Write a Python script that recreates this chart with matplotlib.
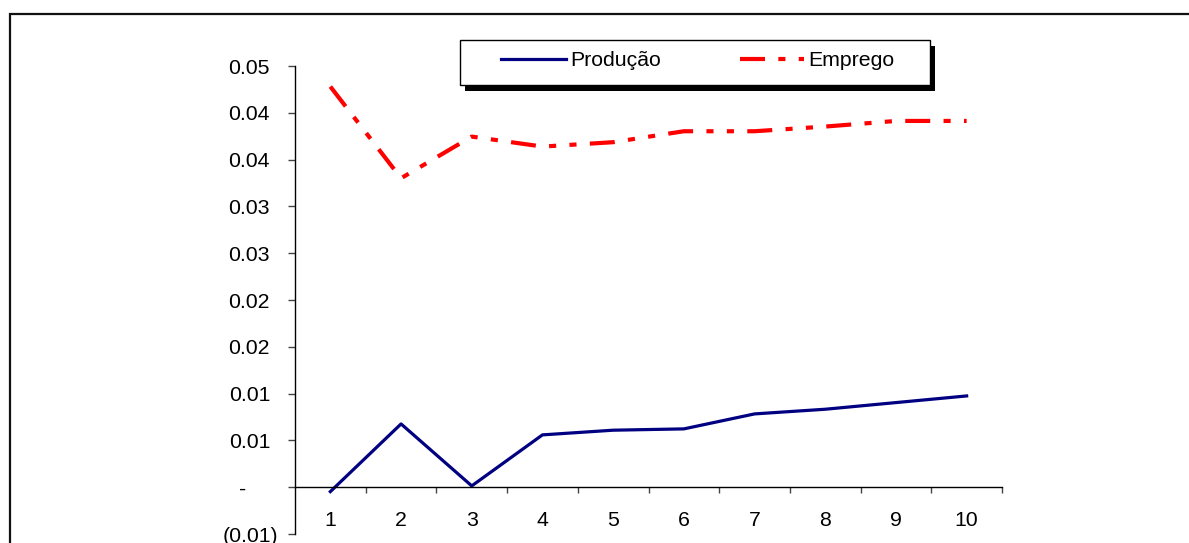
import matplotlib
matplotlib.use('Agg')
import matplotlib.pyplot as plt
from matplotlib.patches import Rectangle
from matplotlib.transforms import ScaledTranslation

# data
periods = [1, 2, 3, 4, 5, 6, 7, 8, 9, 10]
producao = [-0.00047, 0.00676, 0.00014, 0.00559, 0.00609, 0.00623, 0.00783, 0.00833, 0.00904, 0.00975]
emprego = [0.04280, 0.03301, 0.03746, 0.03639, 0.03686, 0.03803, 0.03803, 0.03853, 0.03913, 0.03913]

ytick_vals = [0.045, 0.040, 0.035, 0.030, 0.025, 0.020, 0.015, 0.010, 0.005, 0.0, -0.005]
ytick_labels = ['0.05', '0.04', '0.04', '0.03', '0.03', '0.02', '0.02', '0.01', '0.01', '-', '(0.01)']

plt.rcParams['font.family'] = ['Liberation Sans', 'DejaVu Sans']
FS = 15.3

W, H = 1189, 543
fig = plt.figure(figsize=(W / 100, H / 100), dpi=100)

# outer chart border (runs off the right and bottom edges)
fig.add_artist(Rectangle((9.5 / W, -0.05), 1.1, 1 - 14 / H + 0.05, transform=fig.transFigure,
                         fill=False, lw=1.6, ec='#111111', zorder=1))

ax = fig.add_axes([295 / W, 1 - 534 / H, (1002 - 295) / W, (534 - 66) / H])
ax.patch.set_alpha(0)

l1, = ax.plot(periods, producao, color='#000080', lw=2.3, label='Produção')
l2, = ax.plot(periods, emprego, color='#ff0000', lw=3.0,
              dashes=(6, 3.2, 1.7, 3.2, 1.7, 3.2), label='Emprego')

ax.set_xlim(0.5, 10.5)
ax.set_ylim(-0.005, 0.045)

for s in ['top', 'right']:
    ax.spines[s].set_visible(False)
ax.spines['bottom'].set_position(('data', 0))
ax.spines['bottom'].set_linewidth(1)
ax.spines['left'].set_linewidth(1)

ax.set_xticks(periods, [str(p) for p in periods])
ax.set_xticks([p + 0.5 for p in periods], minor=True)
ax.tick_params(axis='x', which='major', length=0, pad=17, labelsize=FS)
ax.tick_params(axis='x', which='minor', length=4.5, width=1, direction='out', color='#444444')

ax.set_yticks(ytick_vals, ytick_labels)
ax.tick_params(axis='y', length=5, width=1, pad=13, labelsize=FS, color='#444444')

# accounting-style label alignment
for lab in ax.get_yticklabels():
    t = lab.get_text()
    if t == '(0.01)':
        lab.set_transform(lab.get_transform() + ScaledTranslation(5.8 / 72, 0, fig.dpi_scale_trans))
    elif t == '-':
        lab.set_transform(lab.get_transform() + ScaledTranslation(-17.3 / 72, 0, fig.dpi_scale_trans))

# legend box with shadow
fig.add_artist(Rectangle((465 / W, 1 - 91 / H), 470 / W, 45 / H, transform=fig.transFigure,
                         fc='black', ec='none', zorder=3))
fig.add_artist(Rectangle((460 / W, 1 - 85 / H), 470 / W, 45 / H, transform=fig.transFigure,
                         fc='white', ec='black', lw=1, zorder=4))
fig.legend(handles=[l1, l2], loc='center', bbox_to_anchor=(698 / W, 1 - 61 / H),
           bbox_transform=fig.transFigure, ncol=2, frameon=False, fontsize=FS,
           handlelength=3.05, handletextpad=0.19, columnspacing=3.7,
           borderpad=0, borderaxespad=0)

fig.savefig('out.png', dpi=100)
